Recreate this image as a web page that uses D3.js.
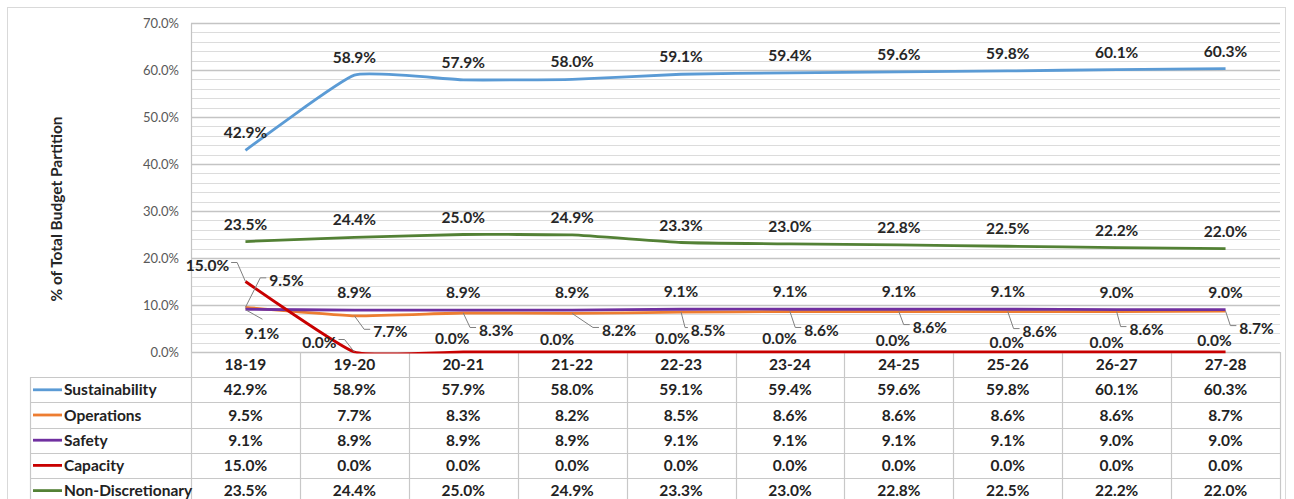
<!DOCTYPE html>
<html><head><meta charset="utf-8">
<script src="https://cdn.jsdelivr.net/npm/d3@7"></script>
<style>
html,body{margin:0;padding:0;background:#fff;}
svg{display:block;font-family:Lato,"Open Sans",sans-serif;}
</style></head>
<body>
<svg id="chart" width="1294" height="499"></svg>
<script>
// ---------- DATA ----------
const categories = ["18-19","19-20","20-21","21-22","22-23","23-24","24-25","25-26","26-27","27-28"];
const seriesNames = ["Sustainability","Operations","Safety","Capacity","Non-Discretionary"];
const sustainability   = [42.9,58.9,57.9,58.0,59.1,59.4,59.6,59.8,60.1,60.3];
const operations       = [9.5,7.7,8.3,8.2,8.5,8.6,8.6,8.6,8.6,8.7];
const safety           = [9.1,8.9,8.9,8.9,9.1,9.1,9.1,9.1,9.0,9.0];
const capacity         = [15.0,0.0,0.0,0.0,0.0,0.0,0.0,0.0,0.0,0.0];
const nonDiscretionary = [23.5,24.4,25.0,24.9,23.3,23.0,22.8,22.5,22.2,22.0];
const yTicks = [0,10,20,30,40,50,60,70];
const yAxisTitle = "% of Total Budget Partition";

// ---------- LAYOUT / STYLE ----------
const colors = ["#5B9BD5","#ED7D31","#7030A0","#C80000","#538135"];
const values = [sustainability, operations, safety, capacity, nonDiscretionary];
const FS = 15.5;
// label offsets (dx, dy from point to label centre), leader flag
const above = categories.map(() => [0,-17.5,false]);
const labelOffsets = [
  above,
  [[41,-27,true],[36,16,true],[33,17,true],[47,16.5,true],[27,18,true],[31.5,18.4,true],[31,15.5,true],[32,19.5,true],[30,17.5,true],[31,17,true]],
  [[16.5,24,true]].concat(categories.slice(1).map(() => [0,-17.5,false])),
  [[-38,-16.5,true],[-35,-10,true],[-11,-14,false],[-15,-13,false],[-8.6,-14,false],[-10.5,-14,false],[-6,-12,false],[-1,-10,false],[-10,-10,false],[-11,-12,false]],
  above
];

const svg = d3.select("#chart");
const L = 191, R = 1280, T = 23, B = 352;
const rowH = 25.2, tableLeft = 30;

const x = d3.scaleBand().domain(categories).range([L, R]).padding(0);
const y = d3.scaleLinear().domain([0, 70]).range([B, T]);
const cx = c => x(c) + x.bandwidth()/2;
const fmt = v => v.toFixed(1) + "%";

svg.append("defs").append("clipPath").attr("id","plotclip")
  .append("rect").attr("x",L-5).attr("y",T-10).attr("width",R-L+10).attr("height",B-T+11.5);

// outer border
svg.append("rect").attr("x",7.5).attr("y",7.5).attr("width",1278).attr("height",510)
  .attr("fill","none").attr("stroke","#d9d9d9").attr("stroke-width",1);

// gridlines
const minor = d3.range(0, 70.01, 2).filter(v => Math.abs(v % 10) > 0.01);
svg.append("g").selectAll("line").data(minor).join("line")
  .attr("x1",L).attr("x2",R).attr("y1",d=>Math.round(y(d))+0.5).attr("y2",d=>Math.round(y(d))+0.5)
  .attr("stroke","#dcdcdc").attr("stroke-width",1);
svg.append("g").selectAll("line").data(yTicks).join("line")
  .attr("x1",L).attr("x2",R).attr("y1",d=>Math.round(y(d))+0.5).attr("y2",d=>Math.round(y(d))+0.5)
  .attr("stroke","#c4c4c4").attr("stroke-width",1.4);

// y axis via d3
const yAxis = svg.append("g").attr("transform",`translate(${L},0)`)
  .call(d3.axisLeft(y).tickValues(yTicks).tickSize(0).tickPadding(12).tickFormat(d => d.toFixed(1)+"%"));
yAxis.select(".domain").attr("stroke","#c4c4c4").attr("stroke-width",1.2);
yAxis.selectAll("text").attr("font-size",13).attr("fill","#595959").attr("font-family","Lato,sans-serif");

// y title
svg.append("text").attr("transform","translate(62,209) rotate(-90)")
  .attr("text-anchor","middle").attr("font-size",FS).attr("font-weight","bold").attr("fill","#262626")
  .text(yAxisTitle);

// table
const tbl = svg.append("g");
const gridC = "#c8c8c8";
const bounds = categories.map(c => x(c)).concat([R]);
tbl.selectAll("line.col").data(bounds).join("line").attr("class","col")
  .attr("x1",d=>Math.round(d)+0.5).attr("x2",d=>Math.round(d)+0.5).attr("y1",B).attr("y2",499)
  .attr("stroke",gridC).attr("stroke-width",1.2);
tbl.append("line").attr("x1",tableLeft+0.5).attr("x2",tableLeft+0.5).attr("y1",B+rowH).attr("y2",499)
  .attr("stroke",gridC).attr("stroke-width",1.2);
const rowYs = d3.range(1, 6).map(i => B + i*rowH);
tbl.selectAll("line.row").data(rowYs).join("line").attr("class","row")
  .attr("x1",tableLeft).attr("x2",R).attr("y1",d=>Math.round(d)+0.5).attr("y2",d=>Math.round(d)+0.5)
  .attr("stroke",gridC).attr("stroke-width",1.2);
tbl.selectAll("text.hdr").data(categories).join("text").attr("class","hdr")
  .attr("x",d=>cx(d)).attr("y",B+rowH/2).attr("dy","0.36em").attr("text-anchor","middle")
  .attr("font-size",FS).attr("font-weight","bold").attr("fill","#222").text(d=>d);
seriesNames.forEach((name, i) => {
  const ry = B + (i+1)*rowH + rowH/2;
  tbl.append("line").attr("x1",33).attr("x2",62).attr("y1",ry).attr("y2",ry)
    .attr("stroke",colors[i]).attr("stroke-width",2.8);
  tbl.append("text").attr("x",64).attr("y",ry).attr("dy","0.36em")
    .attr("font-size",FS).attr("font-weight","bold").attr("fill","#222").text(name);
  tbl.selectAll(null).data(values[i]).join("text")
    .attr("x",(d,j)=>cx(categories[j])).attr("y",ry).attr("dy","0.36em").attr("text-anchor","middle")
    .attr("font-size",FS).attr("font-weight","bold").attr("fill","#222").text(d=>fmt(d));
});

// lines
const line = d3.line().x((d,j)=>cx(categories[j])).y(d=>y(d)).curve(d3.curveCardinal.tension(0.6));
const lg = svg.append("g").attr("clip-path","url(#plotclip)");
values.forEach((vals, i) => {
  lg.append("path").datum(vals).attr("d", line).attr("fill","none")
    .attr("stroke",colors[i]).attr("stroke-width",2.8).attr("stroke-linejoin","round");
});

// data labels + leader lines
const lab = svg.append("g");
values.forEach((vals, i) => {
  vals.forEach((v, j) => {
    const px = cx(categories[j]), py = y(v);
    const [dx, dy, leader] = labelOffsets[i][j];
    const lx = px + dx, ly = py + dy;
    const t = lab.append("text").attr("x",lx).attr("y",ly).attr("dy","0.36em").attr("text-anchor","middle")
      .attr("font-size",FS).attr("font-weight","bold").attr("fill","#262626").text(fmt(v));
    if (leader) {
      const w = t.node().getComputedTextLength();
      let pts;
      if (dx > 0 && i === 2) {
        pts = [[px+1, py+1],[px+17, py+10]];
      } else if (dx > 0) {
        const left = lx - w/2;
        const ey = ly - 2.5;
        const ex = Math.max(px + 4, left - 9);
        pts = [[px, py],[ex, ey],[left - 3, ey]];
      } else {
        const right = lx + w/2;
        const ey = ly - 2.5;
        const ex = Math.min(px - 4, right + 8);
        pts = [[px, py],[ex, ey],[right + 2, ey]];
      }
      lab.append("path").attr("d", d3.line()(pts)).attr("fill","none")
        .attr("stroke","#7f7f7f").attr("stroke-width",1);
    }
  });
});
</script>
</body></html>
